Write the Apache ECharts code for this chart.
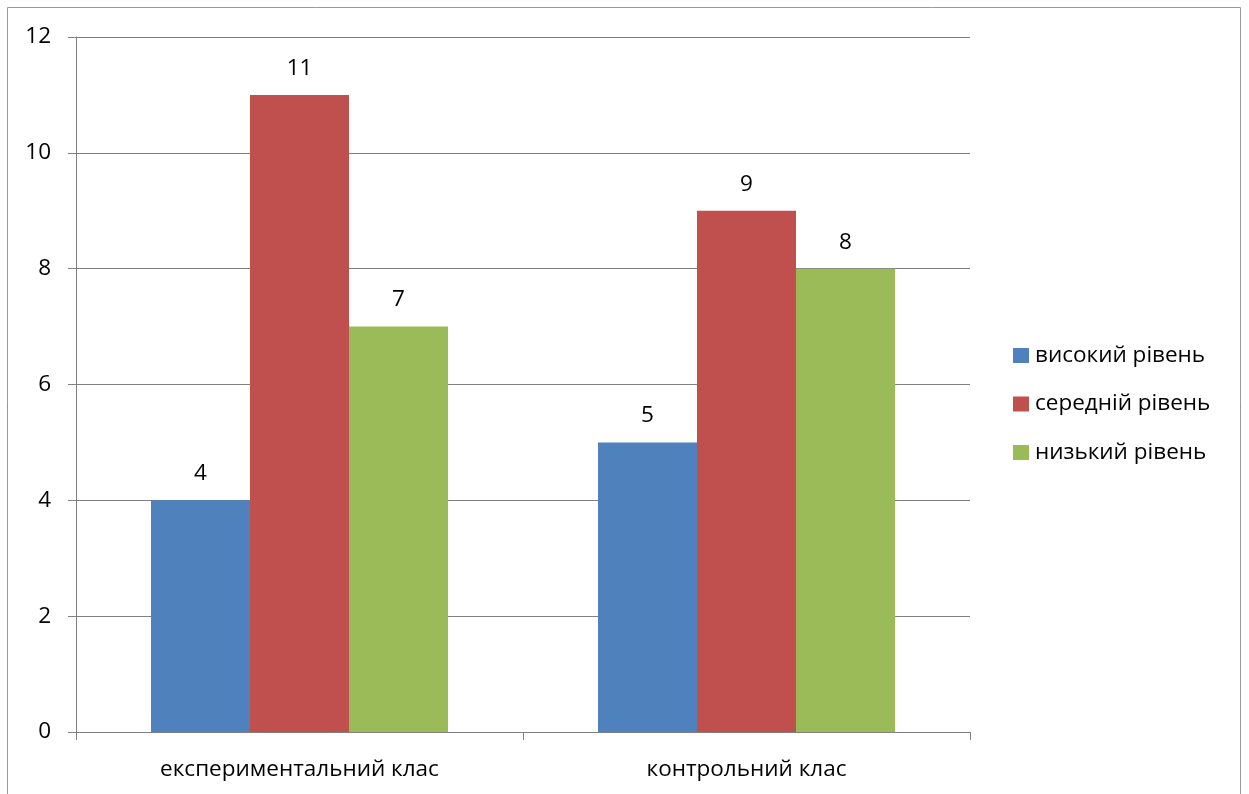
<!DOCTYPE html>
<html>
<head>
<meta charset="utf-8">
<script src="https://cdn.jsdelivr.net/npm/echarts@6/dist/echarts.min.js"></script>
<style>
html,body{margin:0;padding:0;background:#fff;}
#c{width:1249px;height:794px;}
</style>
</head>
<body>
<div id="c"></div>
<script>
const categories = ['експериментальний клас', 'контрольний клас'];
const seriesNames = ['високий рівень', 'середній рівень', 'низький рівень'];
const highLevel = [4, 5];
const midLevel = [11, 9];
const lowLevel = [7, 8];
const yTicks = [0, 2, 4, 6, 8, 10, 12];

const colors = ['#4F81BD', '#C0504D', '#9BBB59'];
const FONT = '"Open Sans", "Noto Sans", sans-serif';
const FS = 22.5;
const gridColor = '#808080';

const chart = echarts.init(document.getElementById('c'));
const seriesData = [highLevel, midLevel, lowLevel];

chart.setOption({
  animation: false,
  color: colors,
  graphic: [{
    type: 'rect',
    shape: { x: 7.5, y: 7.5, width: 1233, height: 820 },
    style: { fill: 'none', stroke: '#999999', lineWidth: 1 },
    silent: true
  }],
  grid: { left: 76, right: 279, top: 37, bottom: 62 },
  legend: {
    orient: 'vertical',
    left: 1013,
    top: 344,
    padding: 0,
    itemWidth: 16,
    itemHeight: 15,
    itemGap: 25.5,
    icon: 'rect',
    data: seriesNames,
    textStyle: { fontFamily: FONT, fontSize: FS, color: '#000', padding: [0, 0, 0, 1] }
  },
  xAxis: {
    type: 'category',
    data: categories,
    axisLine: { lineStyle: { color: gridColor, width: 1 } },
    axisTick: { show: true, length: 8, lineStyle: { color: gridColor } },
    axisLabel: { fontFamily: FONT, fontSize: FS, color: '#000', margin: 26 }
  },
  yAxis: {
    type: 'value',
    min: yTicks[0],
    max: yTicks[yTicks.length - 1],
    interval: 2,
    axisLine: { show: true, lineStyle: { color: gridColor, width: 1 } },
    axisTick: { show: true, length: 8, lineStyle: { color: gridColor } },
    splitLine: { show: true, lineStyle: { color: gridColor, width: 1 } },
    axisLabel: { fontFamily: FONT, fontSize: FS, color: '#000', margin: 25 }
  },
  series: seriesNames.map((name, i) => ({
    name: name,
    type: 'bar',
    data: seriesData[i],
    barWidth: 99,
    barGap: '0%',
    itemStyle: { color: colors[i] },
    label: {
      show: true,
      position: 'top',
      distance: 15,
      fontFamily: FONT,
      fontSize: FS,
      color: '#000'
    }
  }))
});
</script>
</body>
</html>
